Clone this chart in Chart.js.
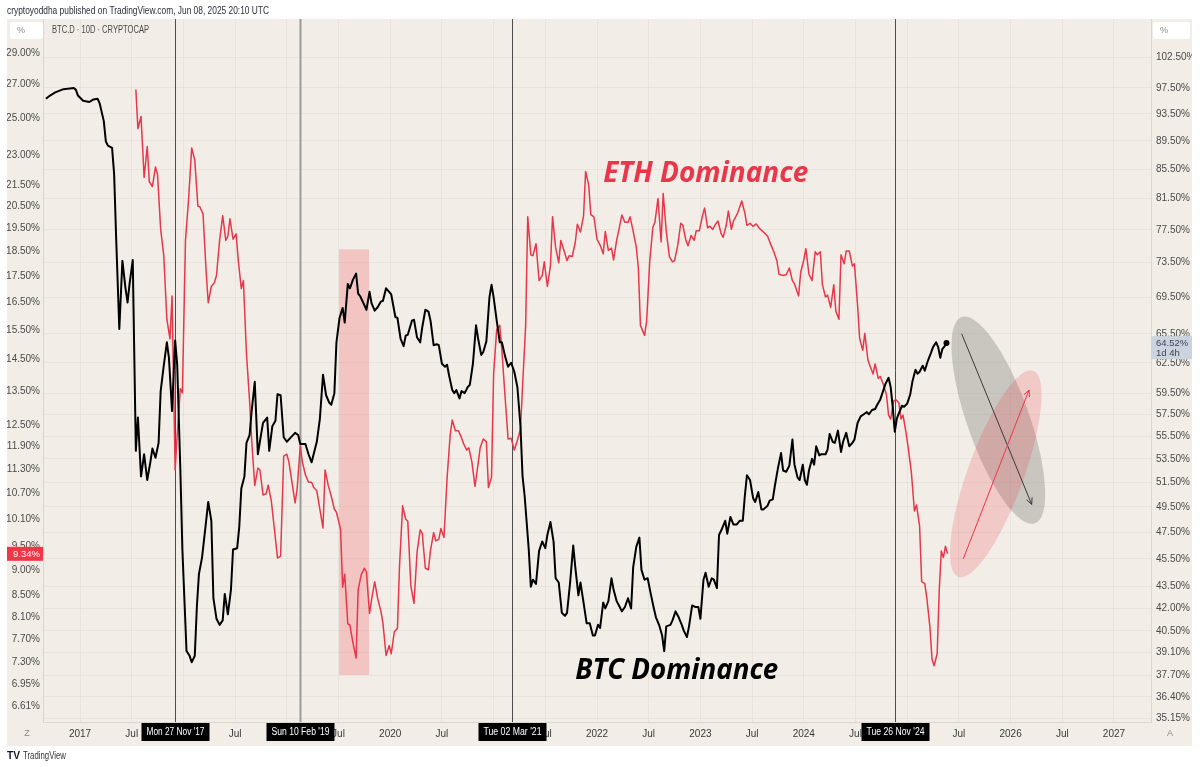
<!DOCTYPE html>
<html>
<head>
<meta charset="utf-8">
<title>BTC.D vs ETH.D</title>
<script src="https://cdn.jsdelivr.net/npm/chart.js@4.4.1/dist/chart.umd.min.js"></script>
<style>
  html, body { margin: 0; padding: 0; background: #fff; overflow: hidden; }
  canvas { display: block; }
</style>
</head>
<body>
<canvas id="chart" width="1200" height="767"></canvas>
<script>
// BTC dominance, 10D closes (decimal year / percent), right scale
const btcDates = [
  2016.67, 2016.71, 2016.76, 2016.84, 2016.94, 2016.96, 2016.98, 2017.03, 2017.09, 2017.13,
  2017.17, 2017.19, 2017.23, 2017.25, 2017.27, 2017.31, 2017.33, 2017.35, 2017.38, 2017.41,
  2017.44, 2017.46, 2017.48, 2017.51, 2017.54, 2017.56, 2017.59, 2017.62, 2017.65, 2017.68,
  2017.70, 2017.73, 2017.76, 2017.78, 2017.81, 2017.84, 2017.86, 2017.89, 2017.92, 2017.94,
  2017.97, 2017.99, 2018.03, 2018.06, 2018.08, 2018.11, 2018.13, 2018.15, 2018.18, 2018.22,
  2018.24, 2018.27, 2018.29, 2018.32, 2018.35, 2018.38, 2018.40, 2018.43, 2018.46, 2018.48,
  2018.52, 2018.54, 2018.56, 2018.59, 2018.61, 2018.64, 2018.66, 2018.69, 2018.72, 2018.75,
  2018.77, 2018.81, 2018.83, 2018.86, 2018.89, 2018.91, 2018.94, 2018.97, 2019.00, 2019.03,
  2019.08, 2019.11, 2019.13, 2019.18, 2019.21, 2019.24, 2019.29, 2019.32, 2019.35, 2019.38,
  2019.41, 2019.43, 2019.46, 2019.48, 2019.51, 2019.54, 2019.56, 2019.59, 2019.61, 2019.64,
  2019.67, 2019.69, 2019.71, 2019.75, 2019.77, 2019.80, 2019.82, 2019.85, 2019.88, 2019.91,
  2019.93, 2019.96, 2019.99, 2020.01, 2020.05, 2020.07, 2020.10, 2020.13, 2020.15, 2020.17,
  2020.21, 2020.23, 2020.26, 2020.29, 2020.31, 2020.34, 2020.37, 2020.39, 2020.42, 2020.45,
  2020.47, 2020.50, 2020.53, 2020.55, 2020.57, 2020.60, 2020.62, 2020.64, 2020.67, 2020.69,
  2020.72, 2020.75, 2020.77, 2020.80, 2020.83, 2020.85, 2020.88, 2020.90, 2020.93, 2020.96,
  2020.98, 2021.00, 2021.03, 2021.06, 2021.08, 2021.11, 2021.14, 2021.17, 2021.20, 2021.23,
  2021.26, 2021.28, 2021.30, 2021.34, 2021.36, 2021.38, 2021.41, 2021.44, 2021.47, 2021.50,
  2021.52, 2021.55, 2021.58, 2021.60, 2021.63, 2021.66, 2021.69, 2021.71, 2021.74, 2021.77,
  2021.79, 2021.82, 2021.84, 2021.87, 2021.90, 2021.93, 2021.96, 2021.98, 2022.01, 2022.03,
  2022.06, 2022.08, 2022.11, 2022.14, 2022.16, 2022.19, 2022.22, 2022.24, 2022.27, 2022.30,
  2022.33, 2022.35, 2022.38, 2022.41, 2022.43, 2022.46, 2022.49, 2022.52, 2022.55, 2022.57,
  2022.60, 2022.63, 2022.65, 2022.67, 2022.71, 2022.73, 2022.76, 2022.79, 2022.82, 2022.84,
  2022.87, 2022.89, 2022.92, 2022.95, 2022.98, 2023.00, 2023.03, 2023.05, 2023.08, 2023.11,
  2023.13, 2023.16, 2023.18, 2023.21, 2023.24, 2023.26, 2023.29, 2023.32, 2023.35, 2023.38,
  2023.41, 2023.43, 2023.45, 2023.48, 2023.51, 2023.53, 2023.56, 2023.59, 2023.61, 2023.65,
  2023.67, 2023.70, 2023.72, 2023.75, 2023.78, 2023.80, 2023.83, 2023.86, 2023.89, 2023.91,
  2023.94, 2023.96, 2023.99, 2024.01, 2024.03, 2024.05, 2024.08, 2024.10, 2024.12, 2024.15,
  2024.17, 2024.21, 2024.23, 2024.25, 2024.28, 2024.30, 2024.33, 2024.36, 2024.38, 2024.41,
  2024.44, 2024.47, 2024.49, 2024.52, 2024.55, 2024.58, 2024.61, 2024.63, 2024.66, 2024.69,
  2024.71, 2024.74, 2024.76, 2024.79, 2024.82, 2024.84, 2024.86, 2024.88, 2024.90, 2024.92,
  2024.95, 2024.97, 2025.00, 2025.03, 2025.05, 2025.08, 2025.10, 2025.12, 2025.15, 2025.17,
  2025.20, 2025.23, 2025.25, 2025.28, 2025.30, 2025.32, 2025.34, 2025.37, 2025.38
];
const btcValues = [
  95.8, 96.3, 96.8, 97.3, 97.5, 97.2, 96.3, 95.5, 95.3, 95.7,
  95.8, 95.1, 92.4, 89.4, 88.8, 88.5, 84.8, 76.3, 66.0, 73.7,
  70.5, 68.9, 71.1, 73.8, 54.2, 57.2, 52.0, 53.9, 51.7, 53.2,
  54.4, 53.6, 54.9, 59.7, 62.2, 64.6, 63.0, 57.8, 64.8, 62.3,
  52.7, 46.2, 39.2, 38.9, 38.5, 38.9, 42.1, 44.4, 45.6, 48.4,
  49.9, 48.4, 42.7, 41.3, 40.9, 41.2, 43.0, 41.6, 43.3, 46.2,
  46.3, 47.9, 51.0, 52.0, 54.9, 55.6, 57.8, 60.6, 53.9, 55.6,
  56.7, 57.2, 54.2, 56.4, 56.9, 59.4, 59.3, 55.4, 55.0, 55.3,
  55.8, 55.6, 54.8, 54.8, 53.9, 53.2, 55.0, 57.1, 61.3, 59.3,
  58.6, 58.4, 59.5, 64.6, 67.2, 68.3, 66.7, 71.0, 70.5, 71.5,
  72.2, 69.9, 69.6, 68.6, 68.1, 70.1, 68.8, 68.0, 68.4, 69.0,
  69.1, 70.5, 70.1, 69.8, 67.3, 67.2, 65.0, 64.2, 65.3, 65.4,
  66.9, 67.0, 65.1, 64.6, 66.2, 68.1, 67.9, 66.9, 64.3, 64.4,
  64.3, 62.4, 62.1, 62.3, 61.2, 59.8, 59.5, 59.8, 59.0, 59.7,
  59.5, 60.1, 60.3, 62.4, 66.4, 65.0, 63.3, 63.6, 64.7, 69.5,
  70.9, 69.5, 66.9, 64.6, 64.6, 63.2, 62.1, 62.5, 61.6, 60.1,
  56.4, 52.0, 50.4, 46.2, 43.5, 44.0, 43.7, 46.1, 46.8, 46.3,
  47.3, 48.3, 46.8, 44.1, 43.8, 41.7, 41.5, 41.7, 43.8, 46.5,
  44.9, 42.9, 43.8, 42.4, 41.0, 41.0, 40.2, 40.2, 40.9, 40.7,
  42.4, 42.0, 42.5, 44.1, 43.3, 42.5, 42.1, 41.8, 42.1, 42.7,
  42.0, 44.9, 46.4, 47.1, 44.7, 44.0, 44.1, 43.0, 42.0, 41.4,
  40.9, 40.2, 39.2, 40.8, 40.9, 41.2, 41.8, 41.4, 40.9, 40.5,
  40.1, 40.8, 42.2, 42.1, 42.1, 41.3, 44.0, 44.5, 43.5, 44.1,
  44.0, 43.4, 47.3, 47.8, 48.4, 47.4, 48.7, 48.1, 48.1, 48.4,
  48.4, 50.4, 52.1, 51.7, 50.2, 49.9, 50.7, 49.3, 49.3, 49.6,
  50.0, 50.1, 51.2, 52.7, 54.0, 52.5, 52.4, 52.9, 55.2, 53.0,
  51.9, 51.7, 53.0, 51.7, 51.3, 52.5, 53.5, 53.0, 54.6, 53.8,
  53.9, 53.9, 54.3, 55.7, 55.0, 54.9, 56.0, 54.1, 55.0, 55.8,
  54.6, 54.9, 55.2, 56.7, 57.3, 57.5, 57.7, 57.5, 57.9, 58.0,
  58.4, 58.9, 59.5, 60.4, 61.0, 60.1, 58.2, 55.9, 57.1, 57.6,
  58.3, 58.2, 58.5, 59.4, 60.6, 61.8, 61.4, 61.6, 62.2, 61.7,
  62.7, 63.5, 64.1, 64.6, 64.1, 63.0, 63.9, 64.3, 64.52
];

// ETH dominance, left scale
const ethDates = [
  2017.54, 2017.56, 2017.59, 2017.62, 2017.65, 2017.67, 2017.70, 2017.73, 2017.75, 2017.78,
  2017.81, 2017.84, 2017.87, 2017.89, 2017.92, 2017.94, 2017.97, 2017.99, 2018.02, 2018.05,
  2018.08, 2018.11, 2018.14, 2018.16, 2018.19, 2018.22, 2018.24, 2018.27, 2018.30, 2018.32,
  2018.35, 2018.38, 2018.41, 2018.43, 2018.45, 2018.48, 2018.51, 2018.53, 2018.56, 2018.58,
  2018.61, 2018.64, 2018.66, 2018.69, 2018.72, 2018.74, 2018.77, 2018.80, 2018.82, 2018.85,
  2018.88, 2018.91, 2018.94, 2018.97, 2019.00, 2019.02, 2019.05, 2019.08, 2019.10, 2019.13,
  2019.15, 2019.18, 2019.21, 2019.24, 2019.26, 2019.29, 2019.32, 2019.35, 2019.37, 2019.40,
  2019.43, 2019.46, 2019.48, 2019.52, 2019.54, 2019.56, 2019.59, 2019.61, 2019.64, 2019.67,
  2019.69, 2019.72, 2019.75, 2019.77, 2019.80, 2019.82, 2019.85, 2019.88, 2019.91, 2019.93,
  2019.96, 2019.99, 2020.01, 2020.04, 2020.07, 2020.09, 2020.12, 2020.15, 2020.17, 2020.20,
  2020.23, 2020.26, 2020.29, 2020.31, 2020.34, 2020.37, 2020.39, 2020.42, 2020.44, 2020.47,
  2020.49, 2020.52, 2020.55, 2020.58, 2020.60, 2020.63, 2020.66, 2020.69, 2020.71, 2020.74,
  2020.76, 2020.79, 2020.82, 2020.85, 2020.87, 2020.90, 2020.93, 2020.95, 2020.98, 2021.00,
  2021.03, 2021.06, 2021.08, 2021.11, 2021.14, 2021.17, 2021.20, 2021.23, 2021.26, 2021.28,
  2021.31, 2021.33, 2021.36, 2021.38, 2021.41, 2021.44, 2021.47, 2021.49, 2021.52, 2021.55,
  2021.57, 2021.60, 2021.63, 2021.65, 2021.68, 2021.71, 2021.73, 2021.76, 2021.79, 2021.81,
  2021.84, 2021.87, 2021.89, 2021.92, 2021.94, 2021.97, 2022.00, 2022.03, 2022.06, 2022.08,
  2022.11, 2022.14, 2022.16, 2022.19, 2022.21, 2022.24, 2022.27, 2022.30, 2022.32, 2022.35,
  2022.38, 2022.40, 2022.42, 2022.46, 2022.48, 2022.51, 2022.54, 2022.56, 2022.59, 2022.62,
  2022.64, 2022.67, 2022.70, 2022.73, 2022.75, 2022.78, 2022.81, 2022.83, 2022.86, 2022.88,
  2022.91, 2022.94, 2022.96, 2022.99, 2023.02, 2023.04, 2023.07, 2023.09, 2023.12, 2023.14,
  2023.17, 2023.20, 2023.22, 2023.25, 2023.27, 2023.30, 2023.32, 2023.36, 2023.40, 2023.43,
  2023.45, 2023.48, 2023.51, 2023.54, 2023.57, 2023.61, 2023.65, 2023.68, 2023.71, 2023.74,
  2023.76, 2023.80, 2023.83, 2023.86, 2023.89, 2023.91, 2023.95, 2023.97, 2024.00, 2024.02,
  2024.05, 2024.08, 2024.11, 2024.13, 2024.16, 2024.18, 2024.21, 2024.23, 2024.26, 2024.29,
  2024.31, 2024.34, 2024.36, 2024.39, 2024.41, 2024.44, 2024.47, 2024.49, 2024.52, 2024.54,
  2024.57, 2024.59, 2024.62, 2024.64, 2024.67, 2024.69, 2024.72, 2024.74, 2024.77, 2024.80,
  2024.82, 2024.84, 2024.87, 2024.89, 2024.92, 2024.94, 2024.96, 2024.99, 2025.01, 2025.04,
  2025.07, 2025.09, 2025.12, 2025.14, 2025.17, 2025.19, 2025.22, 2025.24, 2025.26, 2025.29,
  2025.31, 2025.33, 2025.35, 2025.37, 2025.39
];
const ethValues = [
  26.70, 24.44, 25.12, 21.88, 23.47, 21.68, 21.44, 22.41, 22.01, 19.46,
  18.34, 15.88, 15.19, 16.74, 11.29, 12.22, 13.57, 13.44, 18.98, 20.83,
  23.39, 22.76, 20.51, 20.47, 20.14, 17.67, 16.48, 17.10, 17.25, 17.53,
  18.98, 20.07, 18.98, 19.16, 19.93, 19.03, 19.26, 18.16, 17.02, 17.33,
  14.68, 13.20, 12.09, 10.90, 11.34, 11.29, 10.67, 10.70, 10.91, 10.53,
  9.88, 9.25, 9.29, 11.65, 11.70, 11.50, 10.98, 10.48, 10.82, 11.92,
  11.50, 11.17, 10.98, 10.98, 10.85, 10.77, 10.33, 9.90, 11.29, 10.91,
  10.64, 10.33, 10.26, 9.87, 8.66, 8.92, 7.97, 7.95, 7.63, 7.38,
  8.61, 8.91, 9.04, 8.96, 8.16, 8.42, 8.77, 8.43, 8.20, 7.98,
  7.42, 7.59, 7.45, 7.83, 7.89, 9.08, 10.41, 10.10, 10.06, 8.68,
  8.35, 9.38, 9.86, 9.78, 9.04, 9.01, 9.42, 9.80, 9.62, 9.65,
  9.89, 9.69, 11.08, 12.22, 12.64, 12.34, 12.34, 12.14, 11.98, 11.81,
  11.87, 11.50, 10.88, 11.45, 11.87, 12.11, 12.04, 10.85, 11.11, 14.03,
  15.52, 15.66, 14.80, 13.37, 12.11, 12.13, 11.81, 12.07, 12.38, 13.64,
  15.66, 20.02, 18.37, 18.33, 18.84, 17.33, 17.53, 18.08, 17.10, 17.93,
  20.02, 18.67, 18.04, 18.98, 18.56, 18.13, 18.33, 18.30, 18.89, 19.69,
  19.34, 20.07, 22.18, 21.51, 20.12, 20.02, 19.03, 18.78, 18.41, 19.37,
  18.55, 18.65, 18.16, 18.98, 19.40, 20.10, 19.77, 19.77, 20.02, 19.37,
  18.69, 17.83, 15.66, 15.31, 15.80, 18.10, 19.55, 19.77, 20.87, 18.91,
  21.11, 19.37, 18.30, 18.08, 18.13, 18.75, 19.73, 19.64, 18.98, 18.75,
  19.19, 18.98, 19.40, 19.40, 20.06, 20.42, 19.52, 19.60, 19.46, 19.64,
  19.83, 19.28, 19.11, 19.64, 20.28, 19.46, 19.83, 20.19, 20.75, 20.19,
  19.64, 19.73, 19.59, 19.70, 19.51, 19.34, 19.16, 18.81, 18.50, 18.13,
  17.58, 17.53, 17.56, 17.83, 17.33, 17.20, 16.74, 17.66, 18.16, 18.63,
  17.58, 17.33, 18.50, 18.37, 18.50, 17.17, 16.70, 16.77, 16.31, 17.17,
  16.17, 15.88, 18.37, 18.00, 18.53, 18.53, 17.91, 18.00, 16.40, 15.21,
  14.80, 15.38, 14.48, 14.29, 14.03, 14.35, 13.89, 13.95, 13.70, 13.38,
  12.78, 12.67, 13.20, 13.24, 13.14, 12.67, 12.78, 12.26, 11.87, 11.24,
  10.29, 10.43, 9.95, 8.77, 8.73, 8.45, 7.91, 7.36, 7.25, 7.45,
  8.60, 9.40, 9.26, 9.50, 9.34
];

// axis ticks as printed by the platform
const leftTicks = [29, 27, 25, 23, 21.5, 20.5, 19.5, 18.5, 17.5, 16.5, 15.5, 14.5, 13.5,
  12.5, 11.9, 11.3, 10.7, 10.1, 9.5, 9, 8.5, 8.1, 7.7, 7.3, 6.95, 6.61];
const rightTicks = [102.5, 97.5, 93.5, 89.5, 85.5, 81.5, 77.5, 73.5, 69.5, 65.5, 62.5, 59.5,
  57.5, 55.5, 53.5, 51.5, 49.5, 47.5, 45.5, 43.5, 42, 40.5, 39.1, 37.7, 36.4, 35.15];
const timeTicks = [2017, 2017.5, 2018, 2018.5, 2019, 2019.5, 2020, 2020.5, 2021, 2021.5,
  2022, 2022.5, 2023, 2023.5, 2024, 2024.5, 2025, 2025.5, 2026, 2026.5, 2027];
// blank labels sit under the date markers
const timeLabels = ['2017', 'Jul', '', 'Jul', '', 'Jul', '2020', 'Jul', '', 'Jul',
  '2022', 'Jul', '2023', 'Jul', '2024', 'Jul', '', 'Jul', '2026', 'Jul', '2027'];

// vertical date markers
const eventDates = [2017.919, 2019.128, 2021.175, 2024.882];
const eventLabels = ["Mon 27 Nov '17", "Sun 10 Feb '19", "Tue 02 Mar '21", "Tue 26 Nov '24"];

// drawings (year, percent)
const zoneDates = [2019.505, 2019.795];
const zoneLevels = [18.6, 7.1];               // ETH scale
const greyEllipse = [[2025.527, 67.3], [2026.236, 48.2]];   // BTC scale
const pinkEllipse = [[2026.219, 61.7], [2025.494, 44.2]];
const downArrow = [[2025.527, 65.5], [2026.204, 49.7]];
const upArrow = [[2025.542, 45.5], [2026.178, 59.8]];
const ethTitleAt = [2022.06, 22.06];          // ETH scale
const btcTitleAt = [2021.79, 38.0];           // BTC scale

const tickFont = { family: "'Liberation Sans Narrow', 'Liberation Sans', Arial, sans-serif", size: 10 };
const paneColor = '#f2eee7';
const red = '#e8364a';

function ellipseBetween(ctx, p, q, half) {
  const cx = (p.x + q.x) / 2, cy = (p.y + q.y) / 2;
  const a = Math.hypot(q.x - p.x, q.y - p.y) / 2;
  ctx.beginPath();
  ctx.ellipse(cx, cy, a, half, Math.atan2(q.y - p.y, q.x - p.x), 0, Math.PI * 2);
  ctx.fill();
}

function arrow(ctx, p, q, color) {
  const ang = Math.atan2(q.y - p.y, q.x - p.x), L = 7;
  ctx.strokeStyle = color;
  ctx.lineWidth = 1;
  ctx.beginPath();
  ctx.moveTo(p.x, p.y);
  ctx.lineTo(q.x, q.y);
  ctx.moveTo(q.x - L * Math.cos(ang - 0.45), q.y - L * Math.sin(ang - 0.45));
  ctx.lineTo(q.x, q.y);
  ctx.lineTo(q.x - L * Math.cos(ang + 0.45), q.y - L * Math.sin(ang + 0.45));
  ctx.stroke();
}

function roundRect(ctx, x, y, w, h, r) {
  ctx.beginPath();
  ctx.moveTo(x + r, y);
  ctx.arcTo(x + w, y, x + w, y + h, r);
  ctx.arcTo(x + w, y + h, x, y + h, r);
  ctx.arcTo(x, y + h, x, y, r);
  ctx.arcTo(x, y, x + w, y, r);
  ctx.closePath();
}

const decor = {
  id: 'decor',
  beforeDraw(chart) {
    const ctx = chart.ctx;
    ctx.save();
    ctx.fillStyle = '#fff';
    ctx.fillRect(0, 0, chart.width, chart.height);
    ctx.fillStyle = paneColor;
    ctx.fillRect(7, 19, 1185, 727);
    ctx.restore();
  },
  beforeDatasetsDraw(chart) {
    const { ctx, chartArea, scales } = chart;
    const x = scales.x, yL = scales.yL, yR = scales.yR;
    const onR = (p) => ({ x: x.getPixelForValue(p[0]), y: yR.getPixelForValue(p[1]) });
    ctx.save();

    // highlighted zone
    const zx0 = x.getPixelForValue(zoneDates[0]), zx1 = x.getPixelForValue(zoneDates[1]);
    const zy0 = yL.getPixelForValue(zoneLevels[0]), zy1 = yL.getPixelForValue(zoneLevels[1]);
    ctx.fillStyle = 'rgba(242, 54, 69, 0.22)';
    ctx.fillRect(zx0, zy0, zx1 - zx0, zy1 - zy0);

    // vertical markers
    const lineCol = ['#4d4d4d', '#9a9a9a', '#4d4d4d', '#4d4d4d'];
    const lineW = [1, 2, 1, 1];
    eventDates.forEach((d, i) => {
      const px = Math.round(x.getPixelForValue(d)) + 0.5;
      ctx.strokeStyle = lineCol[i];
      ctx.lineWidth = lineW[i];
      ctx.beginPath();
      ctx.moveTo(px, chartArea.top);
      ctx.lineTo(px, chartArea.bottom);
      ctx.stroke();
    });

    // projection drawings
    ctx.fillStyle = 'rgba(125, 122, 118, 0.35)';
    ellipseBetween(ctx, onR(greyEllipse[0]), onR(greyEllipse[1]), 31);
    ctx.fillStyle = 'rgba(242, 54, 69, 0.2)';
    ellipseBetween(ctx, onR(pinkEllipse[0]), onR(pinkEllipse[1]), 28);
    arrow(ctx, onR(downArrow[0]), onR(downArrow[1]), '#3a3a3a');
    arrow(ctx, onR(upArrow[0]), onR(upArrow[1]), red);
    ctx.restore();
  },
  afterDatasetsDraw(chart) {
    const { ctx, scales } = chart;
    const x = scales.x;
    ctx.save();
    ctx.textBaseline = 'middle';
    ctx.textAlign = 'left';
    ctx.font = "italic bold 28px 'Open Sans', sans-serif";
    ctx.fillStyle = red;
    ctx.fillText('ETH Dominance', x.getPixelForValue(ethTitleAt[0]), scales.yL.getPixelForValue(ethTitleAt[1]), 205);
    ctx.font = "italic bold 29px 'Open Sans', sans-serif";
    ctx.fillStyle = '#000';
    ctx.fillText('BTC Dominance', x.getPixelForValue(btcTitleAt[0]), scales.yR.getPixelForValue(btcTitleAt[1]), 203);
    ctx.restore();
  },
  afterDraw(chart) {
    const { ctx, scales, chartArea } = chart;
    const x = scales.x, yL = scales.yL, yR = scales.yR;
    ctx.save();

    // header
    ctx.textBaseline = 'middle';
    ctx.textAlign = 'left';
    ctx.fillStyle = '#2a2e39';
    ctx.font = "11px 'Liberation Sans', sans-serif";
    ctx.fillText('cryptoyoddha published on TradingView.com, Jun 08, 2025 20:10 UTC', 7, 11, 262);
    ctx.fillStyle = '#4a4a4a';
    ctx.font = "10px 'Liberation Sans', sans-serif";
    ctx.fillText('BTC.D · 10D · CRYPTOCAP', 52, 30, 97);

    // scale mode boxes
    ctx.fillStyle = '#fff';
    roundRect(ctx, 10, 22, 33, 17, 3); ctx.fill();
    roundRect(ctx, 1153, 22, 37, 17, 3); ctx.fill();
    ctx.fillStyle = '#8a8a8a';
    ctx.font = "9px 'Liberation Sans', sans-serif";
    ctx.fillText('%', 17, 31);
    ctx.fillText('%', 1160, 31);
    ctx.textAlign = 'center';
    ctx.fillText('Z', 27, 734);
    ctx.fillText('A', 1170, 734);

    // date markers on the time axis
    ctx.font = "10px 'Liberation Sans', sans-serif";
    eventDates.forEach((d, i) => {
      const px = Math.round(x.getPixelForValue(d)) + 0.5;
      const tw = Math.min(ctx.measureText(eventLabels[i]).width, 58);
      ctx.fillStyle = '#000';
      ctx.fillRect(px - tw / 2 - 5, chartArea.bottom + 1, tw + 10, 18);
      ctx.fillStyle = '#fff';
      ctx.fillText(eventLabels[i], px, chartArea.bottom + 10.5, 58);
    });

    // last value labels
    const ethLast = ethValues[ethValues.length - 1];
    const ly = yL.getPixelForValue(ethLast);
    ctx.fillStyle = '#f23645';
    ctx.fillRect(7, ly - 7, 36, 14);
    ctx.fillStyle = '#fff';
    ctx.textAlign = 'right';
    ctx.font = "9.5px 'Liberation Sans', sans-serif";
    ctx.fillText(ethLast.toFixed(2) + '%', 40, ly + 0.5, 32);

    const btcLast = btcValues[btcValues.length - 1];
    const ry = yR.getPixelForValue(btcLast);
    ctx.fillStyle = '#cbd3de';
    ctx.fillRect(1151, ry - 7, 41, 23);
    ctx.fillStyle = '#3b4456';
    ctx.textAlign = 'left';
    ctx.fillText(btcLast.toFixed(2) + '%', 1156, ry, 34);
    ctx.fillText('1d 4h', 1156, ry + 10, 34);

    // footer
    ctx.fillStyle = '#131722';
    ctx.font = "bold 11px 'Liberation Sans', sans-serif";
    ctx.fillText('TV', 7, 756, 13);
    ctx.font = "10.5px 'Liberation Sans', sans-serif";
    ctx.fillStyle = '#333';
    ctx.fillText('TradingView', 23, 756, 43);
    ctx.restore();
  }
};

new Chart(document.getElementById('chart'), {
  type: 'line',
  data: {
    datasets: [
      {
        label: 'BTC.D',
        data: btcDates.map((d, i) => ({ x: d, y: btcValues[i] })),
        yAxisID: 'yR',
        borderColor: '#000',
        borderWidth: 2,
        borderJoinStyle: 'round',
        pointRadius: (c) => (c.dataIndex === btcDates.length - 1 ? 3 : 0),
        pointBackgroundColor: '#000',
        pointBorderWidth: 0,
        tension: 0,
        order: 0
      },
      {
        label: 'ETH.D',
        data: ethDates.map((d, i) => ({ x: d, y: ethValues[i] })),
        yAxisID: 'yL',
        borderColor: red,
        borderWidth: 1.5,
        borderJoinStyle: 'round',
        pointRadius: 0,
        tension: 0,
        order: 1
      }
    ]
  },
  options: {
    responsive: false,
    animation: false,
    devicePixelRatio: 1,
    events: [],
    layout: { padding: { top: 19, left: 7, right: 8, bottom: 21 } },
    plugins: { legend: { display: false }, tooltip: { enabled: false } },
    scales: {
      x: {
        type: 'linear',
        min: 2016.642,
        max: 2027.358,
        afterBuildTicks: (s) => { s.ticks = timeTicks.map((v) => ({ value: v })); },
        afterFit: (s) => { s.height = 24; },
        ticks: {
          autoSkip: false,
          maxRotation: 0,
          padding: 6,
          color: '#3a3a3a',
          font: tickFont,
          callback: (v, i) => timeLabels[i]
        },
        grid: { color: 'rgba(0, 0, 0, 0.045)', drawTicks: false },
        border: { color: '#dcd7ce' }
      },
      yL: {
        type: 'logarithmic',
        position: 'left',
        min: 6.384,
        max: 31.32,
        afterBuildTicks: (s) => { s.ticks = leftTicks.map((v) => ({ value: v })); },
        afterFit: (s) => { s.width = 36; },
        ticks: {
          autoSkip: false,
          padding: 3,
          color: '#4a4a4a',
          font: tickFont,
          callback: (v) => v.toFixed(2) + '%'
        },
        grid: { drawOnChartArea: false, drawTicks: false },
        border: { color: '#dcd7ce' }
      },
      yR: {
        type: 'logarithmic',
        position: 'right',
        min: 34.95,
        max: 109.0,
        afterBuildTicks: (s) => { s.ticks = rightTicks.map((v) => ({ value: v })); },
        afterFit: (s) => { s.width = 41; },
        ticks: {
          autoSkip: false,
          padding: 5,
          color: '#4a4a4a',
          font: tickFont,
          callback: (v) => v.toFixed(2) + '%'
        },
        grid: { color: 'rgba(0, 0, 0, 0.035)', drawTicks: false },
        border: { color: '#dcd7ce' }
      }
    }
  },
  plugins: [decor]
});
</script>
</body>
</html>
